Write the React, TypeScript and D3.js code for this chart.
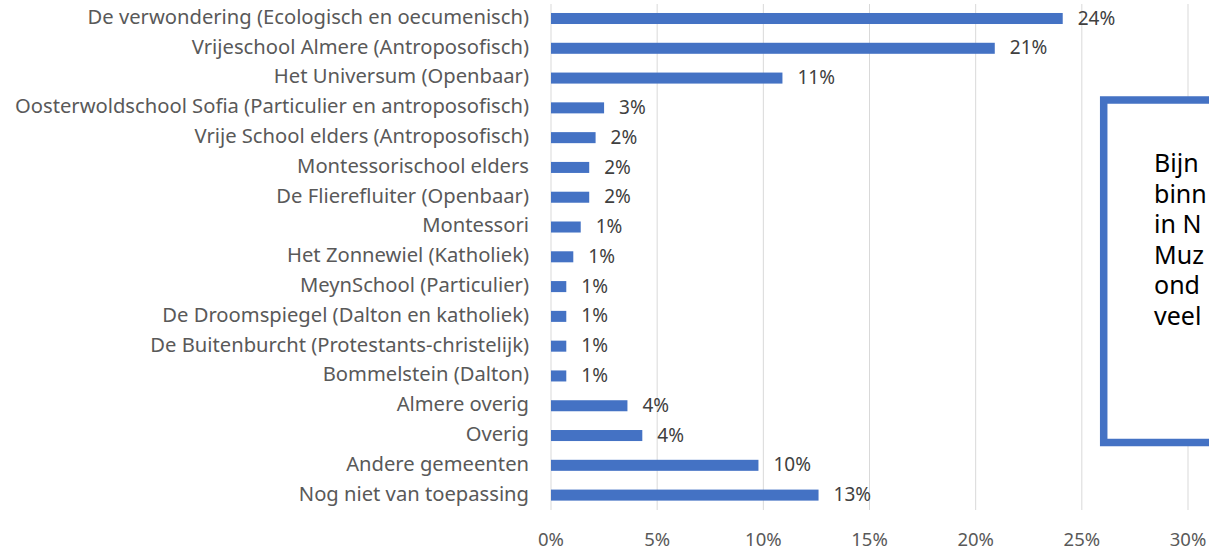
import * as d3 from "d3";

const categories = [
  "De verwondering (Ecologisch en oecumenisch)",
  "Vrijeschool Almere (Antroposofisch)",
  "Het Universum (Openbaar)",
  "Oosterwoldschool Sofia (Particulier en antroposofisch)",
  "Vrije School elders (Antroposofisch)",
  "Montessorischool elders",
  "De Flierefluiter (Openbaar)",
  "Montessori",
  "Het Zonnewiel (Katholiek)",
  "MeynSchool (Particulier)",
  "De Droomspiegel (Dalton en katholiek)",
  "De Buitenburcht (Protestants-christelijk)",
  "Bommelstein (Dalton)",
  "Almere overig",
  "Overig",
  "Andere gemeenten",
  "Nog niet van toepassing",
];

const values = [
  0.241, 0.209, 0.109, 0.025, 0.021, 0.018, 0.018, 0.014, 0.0105, 0.0072,
  0.0072, 0.0072, 0.0072, 0.036, 0.043, 0.0977, 0.126,
];

const xTicks = [0, 0.05, 0.1, 0.15, 0.2, 0.25, 0.3];

// the note on the right is cut off by the picture's edge
const noteLines = ["Bijn", "binn", "in N", "Muz", "ond", "veel"];

const W = 1209;
const H = 553;
const font = "'Noto Sans', 'Open Sans', sans-serif";

export default function App() {
  const x = d3.scaleLinear().domain([0, 0.3]).range([551, 1188]);
  const y = d3
    .scaleBand<string>()
    .domain(categories)
    .range([3.6, 510])
    .paddingInner(0.63)
    .paddingOuter(0.315);
  const pct = d3.format(".0%");

  return (
    <svg
      width={W}
      height={H}
      style={{ position: "absolute", left: 0, top: 0, background: "#fff" }}
      fontFamily={font}
    >
      {xTicks.map((t) => (
        <g key={t}>
          <line
            x1={x(t)}
            x2={x(t)}
            y1={4}
            y2={510}
            stroke="#d9d9d9"
            strokeWidth={1}
          />
          <text
            x={x(t)}
            y={541}
            textAnchor="middle"
            dominantBaseline="middle"
            fontSize={18.5}
            fill="#595959"
          >
            {pct(t)}
          </text>
        </g>
      ))}

      {categories.map((c, i) => {
        const cy = (y(c) ?? 0) + y.bandwidth() / 2;
        return (
          <g key={c}>
            <rect
              x={x(0)}
              y={y(c)}
              width={x(values[i]) - x(0)}
              height={y.bandwidth()}
              fill="#4472c4"
            />
            <text
              x={529}
              y={cy}
              textAnchor="end"
              dominantBaseline="middle"
              fontSize={20.2}
              fill="#595959"
            >
              {c}
            </text>
            <text
              x={x(values[i]) + 15}
              y={cy + 1}
              dominantBaseline="middle"
              fontSize={19}
              fill="#404040"
            >
              {pct(values[i])}
            </text>
          </g>
        );
      })}

      <rect
        x={1103.7}
        y={100}
        width={200}
        height={342.5}
        fill="#fff"
        stroke="#4472c4"
        strokeWidth={7.5}
      />
      {noteLines.map((l, i) => (
        <text key={i} x={1154} y={172 + i * 30.5} fontSize={25} fill="#000">
          {l}
        </text>
      ))}
    </svg>
  );
}
